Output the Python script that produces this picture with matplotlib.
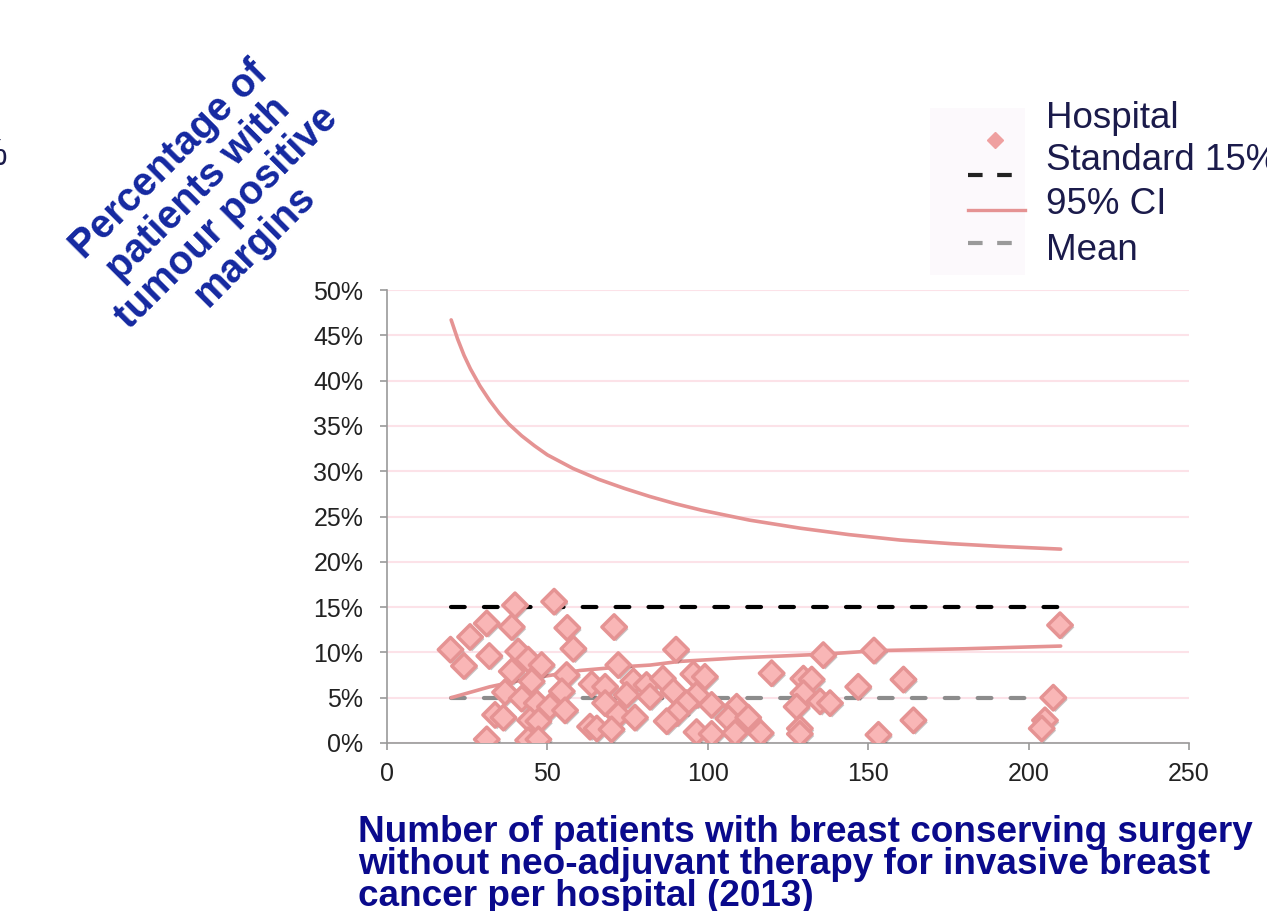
import matplotlib
matplotlib.use("Agg")
import matplotlib.pyplot as plt
import matplotlib.patheffects as pe
from matplotlib.lines import Line2D
from matplotlib.patches import Rectangle
from matplotlib.ticker import FuncFormatter, MultipleLocator

# hospital volume (n) and percentage with tumour positive margins
hosp_n = [39.9, 52.1, 31.1, 38.9, 25.9, 56.2, 19.8, 31.9, 24.0, 58.1, 40.9, 44.0,
          48.2, 38.9, 56.0, 45.1, 36.8, 54.5, 63.8, 42.0, 46.7, 50.8, 55.5, 33.7,
          36.3, 44.6, 47.2, 63.3, 31.1, 44.0, 47.2,
          70.8, 90.1, 72.1, 68.0, 76.8, 80.9, 86.0, 95.5, 99.1, 74.7, 82.0, 89.3,
          96.5, 68.0, 93.4, 101.2, 109.0, 72.1, 77.3, 90.3, 87.2, 106.4, 112.6,
          65.4, 70.0, 96.5, 101.2, 108.5, 116.5,
          136.0, 151.8, 119.9, 129.8, 132.4, 146.9, 161.0, 129.8, 127.7, 135.0,
          138.1, 164.1, 128.7, 128.7, 153.2,
          209.8, 207.7, 205.1, 204.1]
hosp_pct = [15.2, 15.6, 13.2, 12.8, 11.7, 12.7, 10.3, 9.6, 8.5, 10.4, 10.1, 9.2,
            8.6, 7.9, 7.5, 6.8, 5.6, 5.7, 6.5, 4.9, 4.4, 4.0, 3.6, 3.1,
            2.8, 2.5, 2.4, 1.8, 0.4, 0.3, 0.4,
            12.8, 10.3, 8.6, 6.2, 6.8, 6.4, 7.1, 7.6, 7.3, 5.3, 5.1, 5.7,
            5.3, 4.4, 4.4, 4.2, 4.0, 3.1, 2.8, 3.3, 2.4, 2.7, 2.8,
            1.6, 1.5, 1.2, 1.0, 1.1, 1.1,
            9.7, 10.2, 7.7, 7.1, 7.0, 6.2, 7.0, 5.5, 4.0, 4.6,
            4.4, 2.5, 1.6, 1.0, 0.9,
            13.0, 5.0, 2.5, 1.6]

# 95% control limits
ci_up_n = [20, 22, 24, 26, 29, 32, 35, 38, 42, 46, 50, 58, 66, 74, 82, 90, 98,
           113, 129, 144, 160, 176, 191, 210]
ci_up = [46.7, 44.6, 42.8, 41.3, 39.4, 37.8, 36.4, 35.2, 33.9, 32.8, 31.8, 30.3,
         29.1, 28.1, 27.2, 26.4, 25.7, 24.6, 23.7, 23.0, 22.4, 22.0, 21.7, 21.4]
ci_lo_n = [20, 26, 32, 40, 48, 60, 73, 82, 91, 110, 136, 153, 180, 210]
ci_lo = [5.0, 5.6, 6.2, 6.8, 7.3, 8.0, 8.4, 8.6, 9.0, 9.4, 9.8, 10.2, 10.4, 10.7]

ref_n = [20, 210]
standard = [15, 15]
mean = [5, 5]

W, H = 1267, 911
fig = plt.figure(figsize=(W / 100, H / 100), dpi=100)
ax = fig.add_axes([387 / W, 1 - 743 / H, (1189 - 387) / W, (743 - 290) / H])

pink = "#E59393"
fill = "#F9B6B6"

ax.plot(ref_n, standard, color="black", lw=3, dashes=(3.3, 4.6),
        dash_capstyle="round", zorder=3)
ax.plot(ref_n, mean, color="#8C8C8C", lw=3, dashes=(3.3, 4.6),
        dash_capstyle="round", zorder=3)
ax.plot(ci_up_n, ci_up, color=pink, lw=2.6, solid_capstyle="round",
        solid_joinstyle="round", zorder=3)
ax.plot(ci_lo_n, ci_lo, color=pink, lw=2.6, solid_capstyle="round",
        solid_joinstyle="round", zorder=3)

ax.scatter(hosp_n, hosp_pct, marker="D", s=155, facecolor=fill, edgecolor=pink,
           linewidths=2.5, zorder=4,
           path_effects=[pe.SimplePatchShadow(offset=(1.5, -1.5), alpha=0.3),
                         pe.Normal()])

ax.set_xlim(0, 250)
ax.set_ylim(0, 50)
ax.xaxis.set_major_locator(MultipleLocator(50))
ax.yaxis.set_major_locator(MultipleLocator(5))
ax.yaxis.set_major_formatter(FuncFormatter(lambda v, p: f"{v:.0f}%"))
ax.grid(axis="y", color="#FCE2E8", lw=1.5)
ax.set_axisbelow(True)
for s in ["top", "right"]:
    ax.spines[s].set_visible(False)
for s in ["left", "bottom"]:
    ax.spines[s].set_color("#9A9A9A")
    ax.spines[s].set_linewidth(1.2)
ax.tick_params(axis="both", colors="#9A9A9A", length=5, width=1.2,
               labelsize=18, labelcolor="#222222")
ax.tick_params(axis="y", pad=12)
ax.tick_params(axis="x", pad=9)
for lab in ax.get_xticklabels() + ax.get_yticklabels():
    lab.set_fontfamily("Liberation Sans")

# rotated y title
fig.text(212 / W, 1 - 203 / H,
         "Percentage of\npatients with\ntumour positive\nmargins",
         rotation=45, rotation_mode="anchor", ha="center", va="center",
         multialignment="center", fontsize=28.5, fontweight="bold",
         color="#1428A0", family="Liberation Sans", linespacing=1.08)

# x title
fig.text(358 / W, 1 - 815 / H,
         "Number of patients with breast conserving surgery\n"
         "without neo-adjuvant therapy for invasive breast\n"
         "cancer per hospital (2013)",
         ha="left", va="top", fontsize=26.6, fontweight="bold",
         color="#0A0A8C", family="Liberation Sans", linespacing=0.88)

# legend
fig.add_artist(Rectangle((930 / W, 1 - 275 / H), 95 / W, 167 / H,
                         transform=fig.transFigure, facecolor="#FCF9FC",
                         edgecolor="none", zorder=0))
fig.add_artist(Line2D([995 / W], [1 - 140 / H], marker="D", ms=8,
                      mfc="#EFA0A0", mec="#EFA0A0", transform=fig.transFigure))
fig.add_artist(Line2D([968 / W, 1020 / W], [1 - 175 / H] * 2, color="#222222",
                      lw=3, dashes=(3.5, 3.5), transform=fig.transFigure))
fig.add_artist(Line2D([968 / W, 1025 / W], [1 - 210 / H] * 2, color=pink,
                      lw=2.4, transform=fig.transFigure))
fig.add_artist(Line2D([968 / W, 1020 / W], [1 - 243 / H] * 2, color="#9A9A9A",
                      lw=3, dashes=(3.5, 3.5), transform=fig.transFigure))
legend_labels = ["Hospital", "Standard 15%", "95% CI", "Mean"]
legend_y = [118, 160, 205, 250]
for lbl, y in zip(legend_labels, legend_y):
    fig.text(1046 / W, 1 - y / H, lbl, ha="left", va="center", fontsize=26.5,
             color="#1B1B4B", family="Liberation Sans")

# clipped fragment at the left edge
fig.text(7 / W, 1 - 165 / H, "%", ha="right", va="baseline", fontsize=26.5,
         color="#1B1B4B", family="Liberation Sans")

fig.savefig("out.png", dpi=100)
